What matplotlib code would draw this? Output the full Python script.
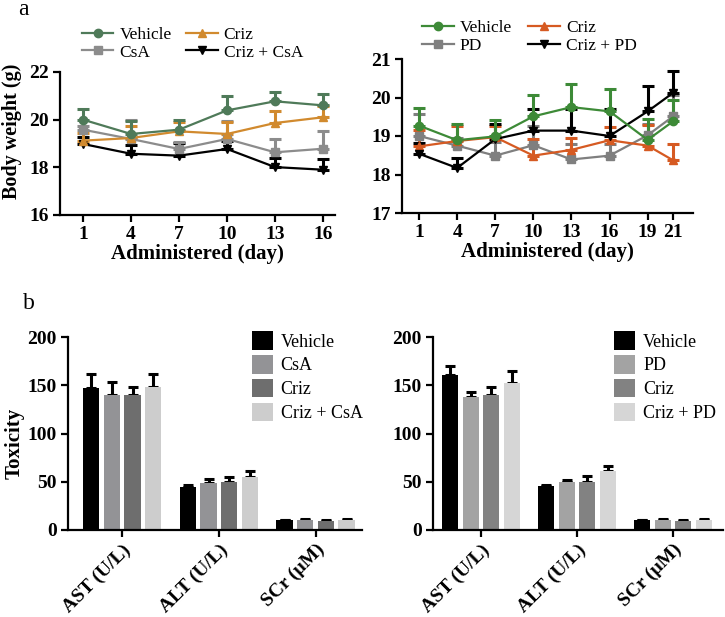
import matplotlib
matplotlib.use("Agg")
import matplotlib.pyplot as plt
from matplotlib.lines import Line2D
import numpy as np

plt.rcParams["font.family"] = ["Liberation Serif", "DejaVu Serif"]
plt.rcParams["axes.linewidth"] = 1.6

W, H = 725, 617

# ---- panel a, left: body weight with CsA
days_a1 = [1, 4, 7, 10, 13, 16]
veh_a1 = [20.0, 19.4, 19.58, 20.39, 20.77, 20.6]
veh_a1_err = [0.45, 0.55, 0.39, 0.6, 0.38, 0.49]
csa_a1 = [19.58, 19.19, 18.77, 19.19, 18.63, 18.78]
csa_a1_err = [0.15, 0.78, 0.3, 0.74, 0.56, 0.73]
criz_a1 = [19.12, 19.23, 19.51, 19.4, 19.86, 20.1]
criz_a1_err = [0.32, 0.49, 0.38, 0.5, 0.49, 0.46]
combo_a1 = [18.98, 18.57, 18.49, 18.77, 18.01, 17.9]
combo_a1_err = [0.28, 0.35, 0.53, 0.35, 0.38, 0.45]

# ---- panel a, right: body weight with PD
days_a2 = [1, 4, 7, 10, 13, 16, 19, 21]
veh_a2 = [19.27, 18.89, 18.99, 19.51, 19.75, 19.64, 18.9, 19.38]
veh_a2_err = [0.47, 0.43, 0.43, 0.56, 0.6, 0.58, 0.55, 0.56]
pd_a2 = [19.0, 18.75, 18.49, 18.76, 18.39, 18.49, 19.02, 19.51]
pd_a2_err = [0.58, 0.2, 0.35, 0.49, 0.41, 0.3, 0.3, 0.55]
criz_a2 = [18.73, 18.87, 18.97, 18.49, 18.64, 18.89, 18.75, 18.37]
criz_a2_err = [0.43, 0.4, 0.3, 0.43, 0.31, 0.34, 0.54, 0.43]
combo_a2 = [18.54, 18.17, 18.92, 19.14, 19.14, 19.0, 19.64, 20.12]
combo_a2_err = [0.28, 0.26, 0.4, 0.56, 0.55, 0.7, 0.65, 0.56]

# ---- panel b: toxicity
tox_labels = ["AST (U/L)", "ALT (U/L)", "SCr (\u03bcM)"]
veh_b1 = [147, 45, 10]
veh_b1_err = [15, 1.2, 0.6]
csa_b1 = [139.4, 49, 10]
csa_b1_err = [13.6, 4, 1.2]
criz_b1 = [140, 50, 9.7]
criz_b1_err = [8, 5.4, 1.0]
combo_b1 = [148.4, 55.4, 10]
combo_b1_err = [13.2, 6.2, 1.2]

veh_b2 = [160.9, 46, 10]
veh_b2_err = [9.3, 0.8, 0.5]
pd_b2 = [137.7, 49.5, 10]
pd_b2_err = [4.9, 2.5, 1.0]
criz_b2 = [139.8, 50.2, 9.5]
criz_b2_err = [8, 5.8, 1.0]
combo_b2 = [152.2, 61.6, 10]
combo_b2_err = [12.8, 4.8, 1.2]


def ax_at(fig, l, t, r, b):
    return fig.add_axes([l / W, 1 - b / H, (r - l) / W, (b - t) / H])


def style(ax, size=14):
    for s in ["top", "right"]:
        ax.spines[s].set_visible(False)
    ax.tick_params(direction="out", length=5, width=1.6, labelsize=size, pad=3)
    for lab in ax.get_xticklabels() + ax.get_yticklabels():
        lab.set_fontweight("bold")


def line(ax, x, y, err, color, marker):
    ax.errorbar(x, y, yerr=[np.zeros(len(err)), err], color=color, marker=marker,
                markersize=6, lw=1.6, elinewidth=2.2, capsize=4, capthick=2.2,
                clip_on=False)
    return Line2D([], [], color=color, marker=marker, markersize=6, lw=1.6)


def line_legend(ax, handles, labels, x0, y0, colsp):
    ax.legend(handles, labels, ncol=2, frameon=False, fontsize=12.5,
              loc="lower left", bbox_to_anchor=(x0, y0), handlelength=1.8,
              handletextpad=0.35, columnspacing=colsp, labelspacing=0.1,
              borderaxespad=0, borderpad=0)


fig = plt.figure(figsize=(W / 100, H / 100), dpi=100)

# top left
ax1 = ax_at(fig, 60, 72, 335, 215)
h_cb = line(ax1, days_a1, combo_a1, combo_a1_err, "black", "v")
h_cs = line(ax1, days_a1, csa_a1, csa_a1_err, "#8c8c8c", "s")
h_cr = line(ax1, days_a1, criz_a1, criz_a1_err, "#d18a2e", "^")
h_ve = line(ax1, days_a1, veh_a1, veh_a1_err, "#4f7a59", "o")
ax1.set_xlim(-0.44, 16.75)
ax1.set_ylim(16, 22)
ax1.set_xticks(days_a1)
ax1.set_yticks([16, 18, 20, 22])
ax1.set_xlabel("Administered (day)", fontsize=15, fontweight="bold", labelpad=1)
ax1.set_ylabel("Body weight (g)", fontsize=14.5, fontweight="bold")
ax1.yaxis.set_label_coords(-0.138, 0.587)
style(ax1)
line_legend(ax1, [h_ve, h_cs, h_cr, h_cb], ["Vehicle", "CsA", "Criz", "Criz + CsA"],
            0.08, 1.08, 0.85)

# top right
ax2 = ax_at(fig, 402, 59, 693, 213)
h_pd = line(ax2, days_a2, pd_a2, pd_a2_err, "#7f7f7f", "s")
h_cr2 = line(ax2, days_a2, criz_a2, criz_a2_err, "#d65a22", "^")
h_cb2 = line(ax2, days_a2, combo_a2, combo_a2_err, "black", "v")
h_ve2 = line(ax2, days_a2, veh_a2, veh_a2_err, "#3d8a37", "o")
ax2.set_xlim(-0.34, 22.57)
ax2.set_ylim(17, 21)
ax2.set_xticks(days_a2)
ax2.set_yticks([17, 18, 19, 20, 21])
ax2.set_xlabel("Administered (day)", fontsize=15, fontweight="bold", labelpad=1)
style(ax2)
line_legend(ax2, [h_ve2, h_pd, h_cr2, h_cb2], ["Vehicle", "PD", "Criz", "Criz + PD"],
            0.07, 1.03, 0.95)


def bars(ax, series, errs, colors, labels):
    x = np.arange(len(tox_labels))
    step, width = 0.214, 0.168
    for i, (vals, err, c, lab) in enumerate(zip(series, errs, colors, labels)):
        pos = x + (i - 1.5) * step
        ax.bar(pos, vals, width=width, color=c, label=lab, zorder=2)
        ax.errorbar(pos, vals, yerr=[np.zeros(len(err)), err], fmt="none",
                    ecolor="black", elinewidth=2.2, capsize=3.5, capthick=2.2,
                    zorder=1)
    ax.set_xticks(x)
    ax.set_xticklabels(tox_labels, rotation=45, ha="right", rotation_mode="anchor")
    ax.set_ylim(0, 200)
    ax.set_yticks([0, 50, 100, 150, 200])
    style(ax, 14)
    ax.legend(frameon=False, fontsize=13, loc="upper left",
              bbox_to_anchor=(0.625, 1.03), handlelength=1.15, handleheight=1.2,
              handletextpad=0.45, labelspacing=0.25, borderaxespad=0, borderpad=0)


ax3 = ax_at(fig, 68, 337, 362, 530)
bars(ax3, [veh_b1, csa_b1, criz_b1, combo_b1],
     [veh_b1_err, csa_b1_err, criz_b1_err, combo_b1_err],
     ["black", "#939396", "#6e6e6e", "#cdcdcd"],
     ["Vehicle", "CsA", "Criz", "Criz + CsA"])
ax3.set_xlim(-0.56, 2.48)
ax3.set_ylabel("Toxicity", fontsize=15, fontweight="bold")
ax3.yaxis.set_label_coords(-0.146, 0.45)

ax4 = ax_at(fig, 433, 337, 723, 530)
bars(ax4, [veh_b2, pd_b2, criz_b2, combo_b2],
     [veh_b2_err, pd_b2_err, criz_b2_err, combo_b2_err],
     ["black", "#a3a3a3", "#828282", "#d6d6d6"],
     ["Vehicle", "PD", "Criz", "Criz + PD"])
ax4.set_xlim(-0.5, 2.52)

fig.text(18 / W, 1 - 15 / H, "a", fontsize=17, va="baseline", ha="left")
fig.text(23 / W, 1 - 309 / H, "b", fontsize=17, va="baseline", ha="left")

fig.savefig("out.png", dpi=100)
